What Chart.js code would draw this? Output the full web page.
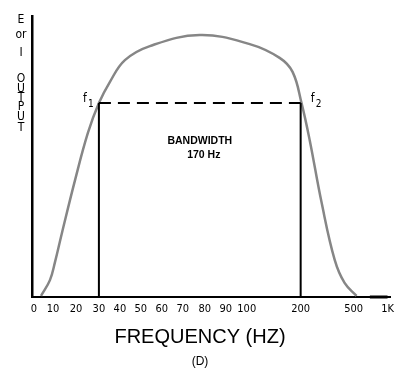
<!DOCTYPE html>
<html>
<head>
<meta charset="utf-8">
<script src="https://cdn.jsdelivr.net/npm/chart.js@4.4.1/dist/chart.umd.min.js"></script>
<style>
  body { margin: 0; background: #fff; }
  #wrap { width: 400px; height: 386px; }
</style>
</head>
<body>
<div id="wrap"><canvas id="chart" width="400" height="386"></canvas></div>
<script>
// frequency axis (Hz) and its printed labels
const X_FREQ = [0, 10, 20, 30, 40, 50, 60, 70, 80, 90, 100, 200, 500, 1000]
const X_LABELS = ['0', '10', '20', '30', '40', '50', '60', '70', '80', '90', '100', '200', '500', '1K']

// response curve (output in % of axis height)
const curveFreq = [3.7, 8.4, 10.9, 13.9, 19.6, 25.2, 30, 35.2, 42.4, 54.3, 77.7, 105.6, 161, 185, 205, 251, 319, 393, 449, 544]
const curveOut = [0.4, 6.0, 12.5, 22.8, 41.6, 58.4, 69, 76.5, 84.3, 89.3, 93.2, 90.0, 85.1, 80.1, 69, 55.9, 33.5, 13.2, 5.0, 0.4]

// cutoff points
const F1 = 30
const F2 = 200
const CUTOFF = 69
const tailFreq = [740, 1000]

const Y_TITLE = ['E', 'or', 'I', 'O', 'U', 'T', 'P', 'U', 'T']
const X_TITLE = 'FREQUENCY (HZ)'
const CAPTION = '(D)'

/////////////////////////////////////////////////////////
// the paper's frequency axis is neither linear nor log, so the
// scale maps each printed tick to its place along the axis
const X_TICK_FRAC = [0.0056, 0.0585, 0.1226, 0.1866, 0.2451, 0.3036, 0.3621, 0.4206, 0.4819, 0.5404, 0.5989, 0.7493, 0.8969, 0.9916]

class PiecewiseScale extends Chart.LinearScale {
    getPixelForValue(value) {
        let i = 1
        while (i < X_FREQ.length - 1 && value > X_FREQ[i]) i++
        const f0 = X_FREQ[i - 1], f1 = X_FREQ[i]
        const p0 = X_TICK_FRAC[i - 1], p1 = X_TICK_FRAC[i]
        const frac = p0 + (value - f0) / (f1 - f0) * (p1 - p0)
        return this.left + frac * this.width
    }
    getValueForPixel(pixel) {
        const frac = (pixel - this.left) / this.width
        let i = 1
        while (i < X_TICK_FRAC.length - 1 && frac > X_TICK_FRAC[i]) i++
        const f0 = X_FREQ[i - 1], f1 = X_FREQ[i]
        const p0 = X_TICK_FRAC[i - 1], p1 = X_TICK_FRAC[i]
        return f0 + (frac - p0) / (p1 - p0) * (f1 - f0)
    }
}
PiecewiseScale.id = 'piecewise'
PiecewiseScale.defaults = Chart.LinearScale.defaults
Chart.register(PiecewiseScale)

const SANS = '"Liberation Sans", Arial, sans-serif'
const NARROW = '"Liberation Sans Narrow", "DejaVu Sans Condensed", "Liberation Sans", sans-serif'

const textPlugin = {
    id: 'texts',
    afterDatasetsDraw(chart) {
        const ctx = chart.ctx
        const x = chart.scales.x, y = chart.scales.y
        ctx.save()
        ctx.fillStyle = '#000'
        ctx.textAlign = 'center'
        ctx.textBaseline = 'middle'

        // stacked y axis title
        const ys = [20, 35, 53, 79, 89, 98, 107, 117, 128]
        ctx.font = '12px ' + NARROW
        Y_TITLE.forEach((t, i) => ctx.fillText(t, 21, ys[i]))

        // f1 / f2 marks
        const yc = y.getPixelForValue(CUTOFF)
        const x1 = x.getPixelForValue(F1), x2 = x.getPixelForValue(F2)
        ctx.font = '12px ' + NARROW
        ctx.fillText('f', x1 - 14, yc - 4)
        ctx.fillText('f', x2 + 12, yc - 4)
        ctx.font = '10px ' + NARROW
        ctx.fillText('1', x1 - 8, yc + 1)
        ctx.fillText('2', x2 + 18, yc + 1)

        // bandwidth note
        const xm = (x1 + x2) / 2
        ctx.font = 'bold 10.5px ' + SANS
        ctx.fillText('BANDWIDTH', xm, y.getPixelForValue(55.5))
        ctx.fillText((F2 - F1) + ' Hz', xm + 4, y.getPixelForValue(50.5))

        // axis title and caption below the plot
        ctx.font = '20px ' + SANS
        ctx.fillText(X_TITLE, 200, 337)
        ctx.font = '12px ' + SANS
        ctx.fillText(CAPTION, 200, 362)
        ctx.restore()
    }
}

const curve = curveFreq.map((f, i) => ({ x: f, y: curveOut[i] }))

new Chart(document.getElementById('chart'), {
    type: 'line',
    data: {
        datasets: [
            {
                data: [{ x: F1, y: CUTOFF }, { x: F2, y: CUTOFF }],
                borderColor: '#000', borderWidth: 2, borderDash: [12, 7],
                pointRadius: 0
            },
            {
                data: [{ x: F1, y: 0 }, { x: F1, y: CUTOFF }],
                borderColor: '#000', borderWidth: 2, pointRadius: 0
            },
            {
                data: [{ x: F2, y: 0 }, { x: F2, y: CUTOFF }],
                borderColor: '#000', borderWidth: 2, pointRadius: 0
            },
            {
                data: tailFreq.map(f => ({ x: f, y: 0 })),
                borderColor: '#000', borderWidth: 3, pointRadius: 0, clip: false
            },
            {
                data: curve,
                borderColor: '#868686', borderWidth: 2.5, pointRadius: 0,
                tension: 0.4
            }
        ]
    },
    options: {
        responsive: false,
        animation: false,
        events: [],
        layout: { padding: { left: 32, top: 16, right: 9, bottom: 0 } },
        scales: {
            x: {
                type: 'piecewise',
                min: 0,
                max: 1000,
                afterBuildTicks: axis => { axis.ticks = X_FREQ.map(v => ({ value: v })) },
                afterFit: axis => { axis.height = 89 },
                grid: { display: false, drawTicks: false },
                border: { display: true, color: '#000', width: 2 },
                ticks: {
                    autoSkip: false, maxRotation: 0, padding: 6,
                    color: '#000',
                    font: { size: 11, family: NARROW },
                    callback: (v, i) => X_LABELS[i]
                }
            },
            y: {
                min: 0,
                max: 100,
                afterFit: axis => { axis.width = 0 },
                grid: { display: false, drawTicks: false },
                border: { display: true, color: '#000', width: 2.5 },
                ticks: { display: false }
            }
        },
        plugins: {
            legend: { display: false },
            tooltip: { enabled: false }
        }
    },
    plugins: [textPlugin]
})
</script>
</body>
</html>
